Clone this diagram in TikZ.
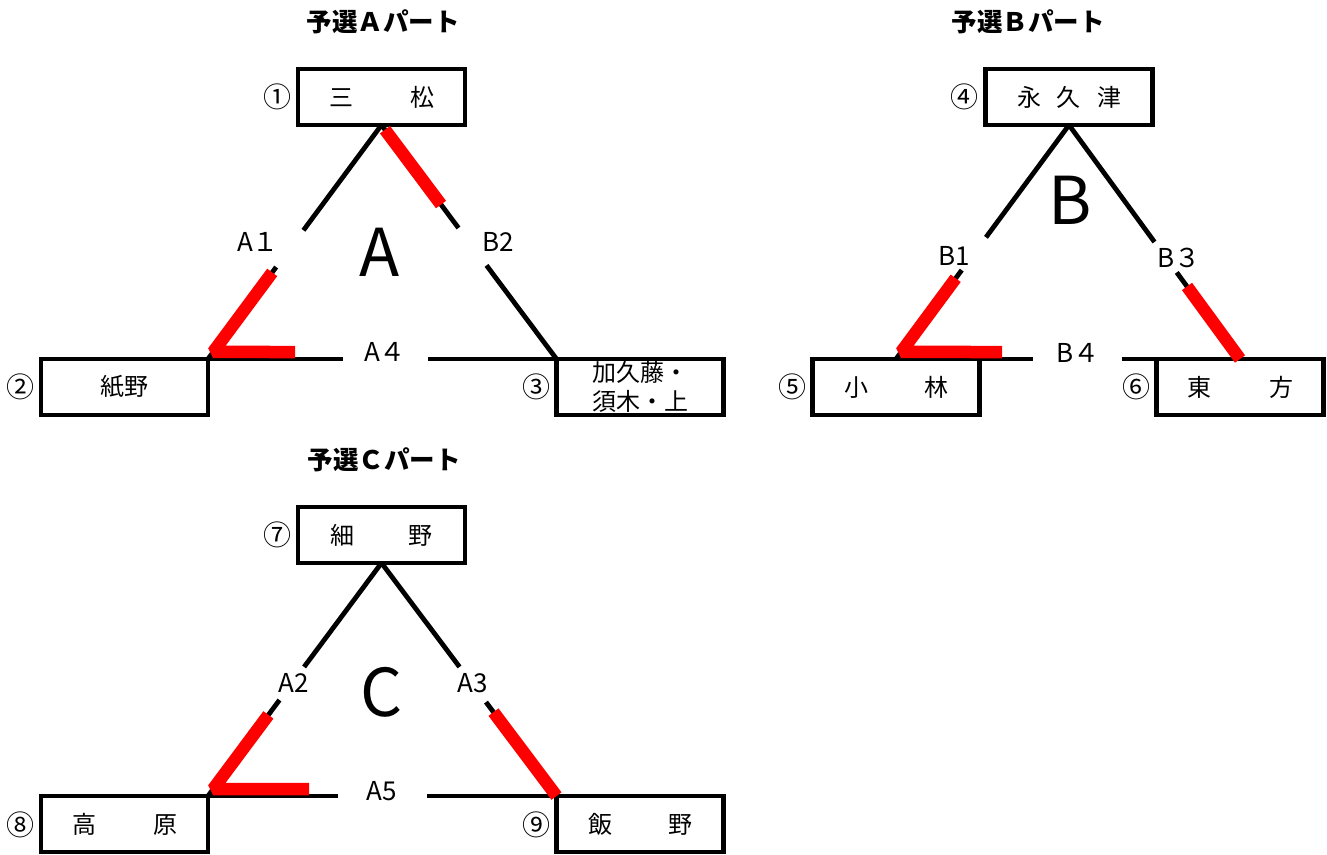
\documentclass[tikz,border=0pt]{standalone}
\usepackage{fontspec}
\setmainfont{Noto Sans CJK JP}
\usetikzlibrary{calc}
\begin{document}
\begin{tikzpicture}[x=1pt,y=-1pt,
  box/.style={draw, line width=4.5pt, minimum width=167pt, minimum height=56pt,
    inner sep=0pt, outer sep=0pt, font=\fontsize{24}{29}\selectfont},
  num/.style={font=\fontsize{28}{28}\selectfont, inner sep=0pt},
  ttl/.style={font=\fontsize{25.5}{25.5}\selectfont\bfseries, inner sep=0pt},
  lbl/.style={font=\fontsize{26}{26}\selectfont, inner sep=0pt},
  big/.style={font=\fontsize{66}{66}\selectfont, inner sep=0pt},
  ln/.style={line width=4.8pt, black},
  rd/.style={line width=12.5pt, red, line join=bevel}]
\useasboundingbox (0,0) rectangle (1327,854);

% ---------- boxes ----------
\node[box] (b1) at (381.5,97) {三\hspace{57pt}松};
\node[box] (b2) at (124.5,387) {紙野};
\node[box, align=left] (b3) at (640,387) {加久藤・\\須木・上};
\node[box] (b4) at (1069,97) {永\hspace{16pt}久\hspace{16pt}津};
\node[box] (b5) at (896,387) {小\hspace{56pt}林};
\node[box] (b6) at (1240,387) {東\hspace{58pt}方};
\node[box] (b7) at (381.5,535) {細\hspace{55pt}野};
\node[box] (b8) at (124.5,824) {高\hspace{57pt}原};
\node[box] (b9) at (640,824) {飯\hspace{56pt}野};

% ---------- circled numbers ----------
\node[num] (n1) at (277,97) {①};
\node[num] (n2) at (20,387) {②};
\node[num] (n3) at (536,387) {③};
\node[num] (n4) at (964,97) {④};
\node[num] (n5) at (792,387) {⑤};
\node[num] (n6) at (1136,387) {⑥};
\node[num] (n7) at (277,535) {⑦};
\node[num] (n8) at (20,825) {⑧};
\node[num] (n9) at (536,825) {⑨};

% ---------- titles ----------
\node[ttl] (t1) at (383,22) {予選Ａパート};
\node[ttl] (t2) at (1028,22) {予選Ｂパート};
\node[ttl] (t3) at (384,460) {予選Ｃパート};

% ---------- free ends ----------
\coordinate (ga1) at (343,359);
\coordinate (ga2) at (428,359);
\coordinate (ra) at (295,352);
\coordinate (gb1) at (1033,359);
\coordinate (gb2) at (1122,359);
\coordinate (rb) at (1002,352);
\coordinate (gc1) at (338,796);
\coordinate (gc2) at (427,796);
\coordinate (rc) at (309,789);

% ---------- group A ----------
\draw[ln] (b1.south) -- ($(b1.south)!0.45!(b2.north east)$);
\draw[ln] ($(b1.south)!0.607!(b2.north east)$) -- (b2.north east);
\draw[ln] (b1.south) -- ($(b1.south)!0.44!(b3.north west)$);
\draw[ln] ($(b1.south)!0.6!(b3.north west)$) -- (b3.north west);
\draw[ln] (b2.north east) -- (ga1);
\draw[ln] (ga2) -- (b3.north west);
\draw[rd] ($(b1.south)!0.63!(b2.north east)$) -- ($(b1.south)!0.97!(b2.north east)$) -- (ra);
\draw[rd] ($(b1.south)!0.02!(b3.north west)$) -- ($(b1.south)!0.34!(b3.north west)$);

% ---------- group B ----------
\draw[ln] (b4.south) -- ($(b4.south)!0.48!(b5.north)$);
\draw[ln] ($(b4.south)!0.62!(b5.north)$) -- (b5.north);
\draw[ln] (b4.south) -- ($(b4.south)!0.5!(b6.north)$);
\draw[ln] ($(b4.south)!0.63!(b6.north)$) -- (b6.north);
\draw[ln] (b5.north east) -- (gb1);
\draw[ln] (gb2) -- (b6.north west);
\draw[rd] ($(b4.south)!0.655!(b5.north)$) -- ($(b4.south)!0.97!(b5.north)$) -- (rb);
\draw[rd] ($(b4.south)!0.69!(b6.north)$) -- (b6.north);

% ---------- group C ----------
\draw[ln] (b7.south) -- ($(b7.south)!0.446!(b8.north east)$);
\draw[ln] ($(b7.south)!0.588!(b8.north east)$) -- (b8.north east);
\draw[ln] (b7.south) -- ($(b7.south)!0.446!(b9.north west)$);
\draw[ln] ($(b7.south)!0.597!(b9.north west)$) -- (b9.north west);
\draw[ln] (b8.north east) -- (gc1);
\draw[ln] (gc2) -- (b9.north west);
\draw[rd] ($(b7.south)!0.652!(b8.north east)$) -- ($(b7.south)!0.97!(b8.north east)$) -- (rc);
\draw[rd] ($(b7.south)!0.64!(b9.north west)$) -- (b9.north west);

% ---------- labels ----------
\node[lbl] (la1) at (258,242) {A１};
\node[lbl] (lb2) at (498,242) {B2};
\node[lbl] (la4) at (385,352) {A４};
\node[big] (bigA) at (380,252) {A};
\node[lbl] (lb1) at (954,256) {B1};
\node[lbl] (lb3) at (1179,258) {B３};
\node[lbl] (lb4) at (1078,353) {B４};
\node[big] (bigB) at (1070,200) {B};
\node[lbl] (la2) at (294,683) {A2};
\node[lbl] (la3) at (473,683) {A3};
\node[lbl] (la5) at (382,791) {A5};
\node[big] (bigC) at (382,692) {C};
\end{tikzpicture}
\end{document}
